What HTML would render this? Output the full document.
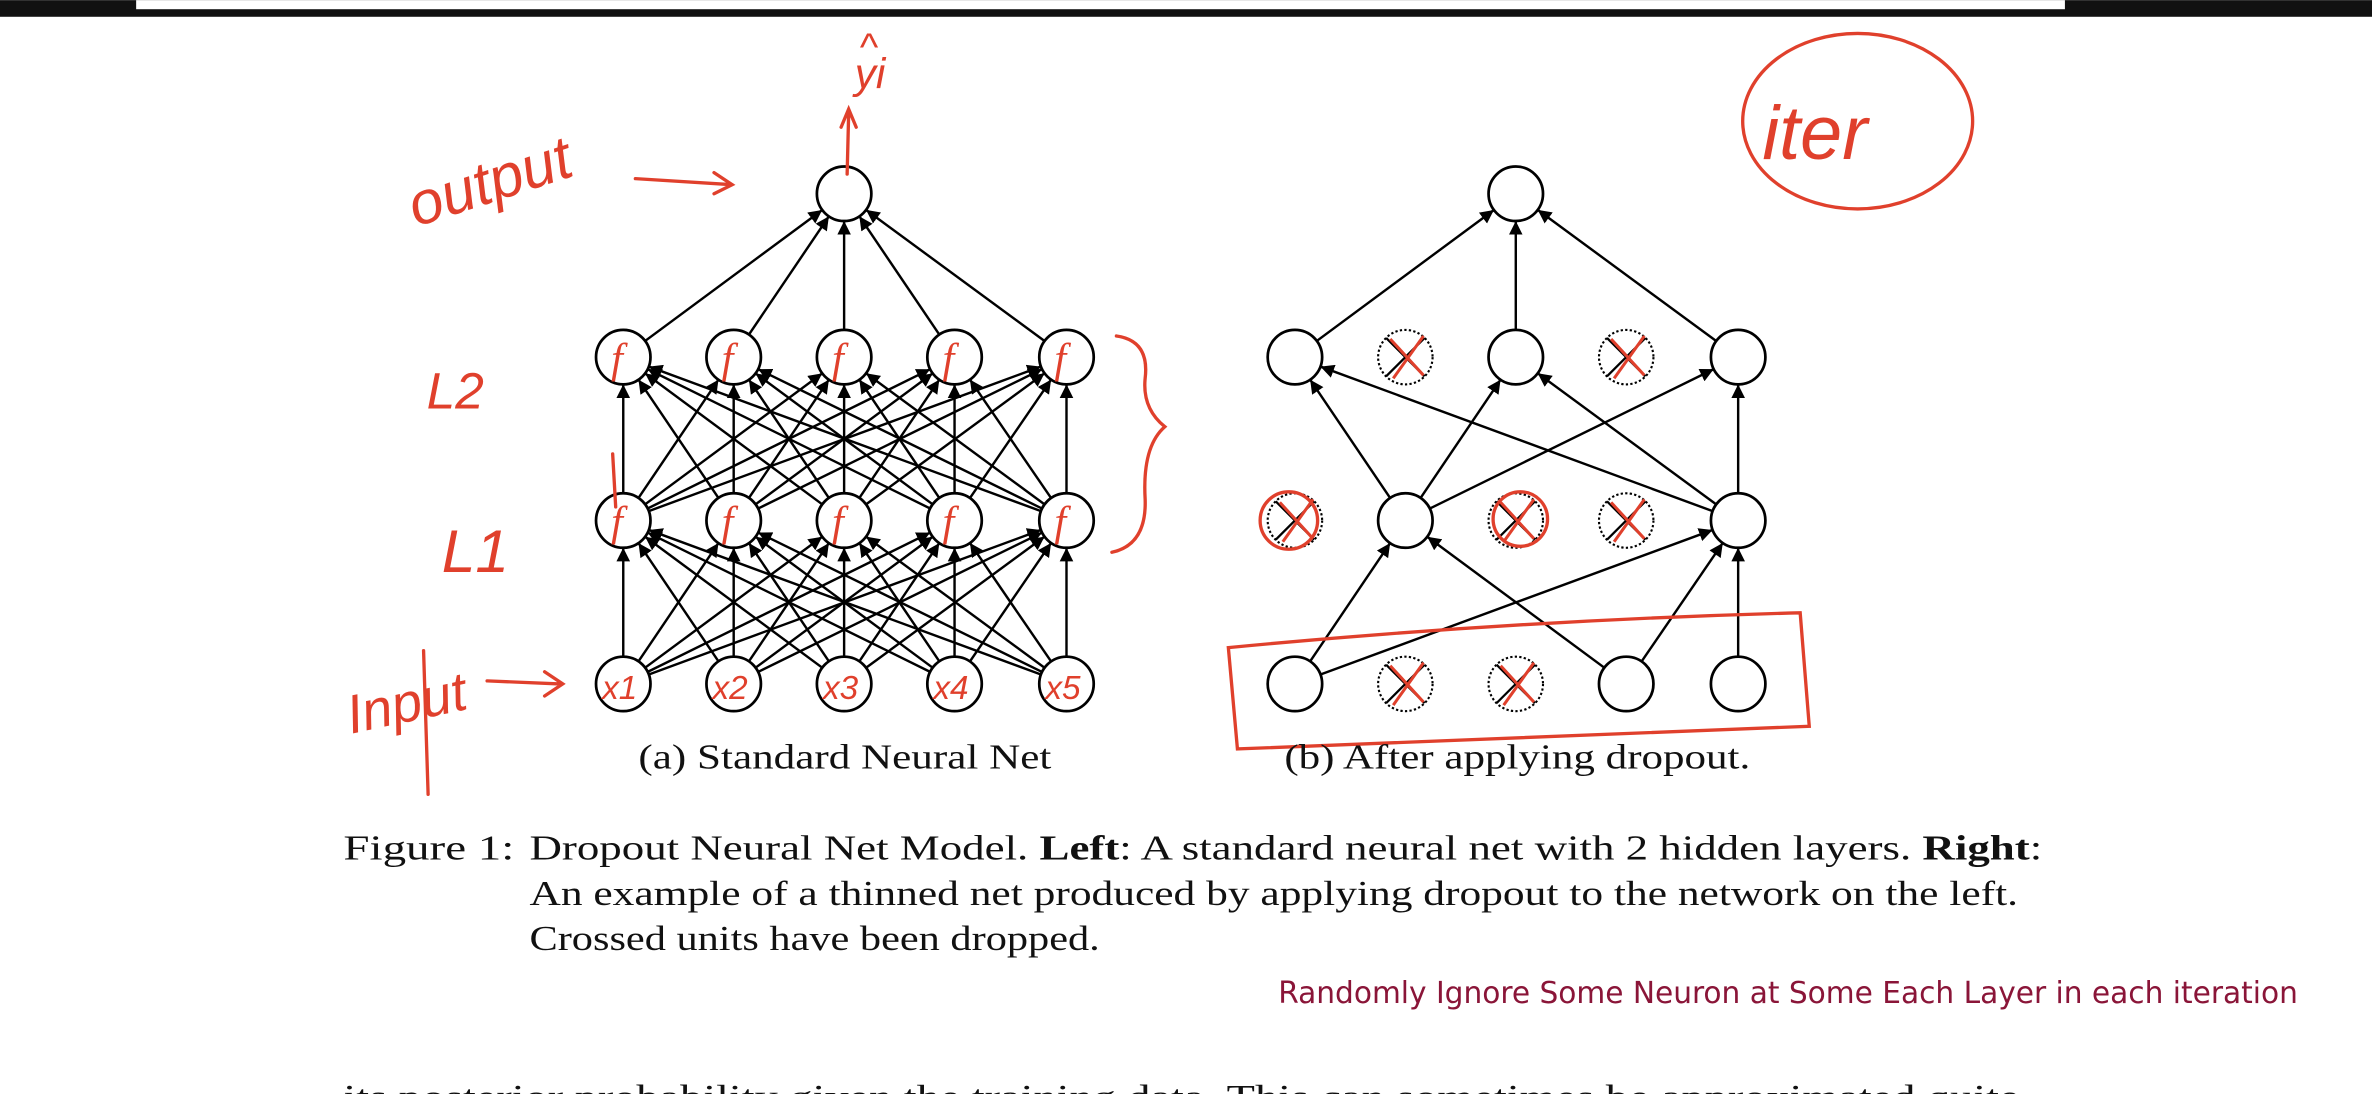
<!DOCTYPE html>
<html><head><meta charset="utf-8"><style>
html,body{margin:0;padding:0;background:#fff;width:2372px;height:1094px;overflow:hidden}
svg{display:block}
.cap{font-family:"Liberation Serif",serif;font-size:23px;fill:#111}
.hw{font-family:"Liberation Sans",sans-serif;fill:#e0402c;font-style:italic}
</style></head><body>
<svg id="s" width="2372" height="1094" viewBox="0 0 1568 723" xmlns="http://www.w3.org/2000/svg">
<defs><marker id="a" viewBox="0 0 10 10" refX="10" refY="5" markerWidth="9" markerHeight="9" markerUnits="userSpaceOnUse" orient="auto"><path d="M0,0L10,5L0,10z" fill="#000"/></marker></defs>
<rect x="0" y="0" width="1568" height="11" fill="#111"/>
<rect x="90" y="0" width="1275" height="6" fill="#fff"/>
<g id="edges" stroke="#000" stroke-width="1.6" fill="none"></g>
<g id="nodes"></g>
<g stroke="#e0402c" stroke-width="2.2" fill="none" stroke-linecap="round">
<path d="M560,115 L561,75 M556,84 L561,72 L566,84"/>
<path d="M420,118 L484,122 M472,114 L484,122 L472,128"/>
<ellipse cx="1228" cy="80" rx="76" ry="58"/>
<path d="M738,222 Q760,225 757,250 Q755,270 770,282 Q755,295 757,330 Q758,360 735,365"/>
<path d="M812,428 Q1000,410 1190,405 L1196,480 Q1000,488 818,495 Z"/>
<path d="M322,450 L370,452 M360,444 L372,452 L360,460"/>
<circle cx="852" cy="344" r="19"/><circle cx="1005" cy="343" r="18"/>
<path d="M283,525 L280,430"/>
<path d="M405,300 L407,335"/>
</g>
<text class="hw" x="275" y="150" font-size="40" transform="rotate(-18 275 150)">output</text>
<text class="hw" x="568" y="40" font-size="26">^</text>
<text class="hw" x="565" y="58" font-size="28">yi</text>
<text class="hw" x="282" y="270" font-size="34">L2</text>
<text class="hw" x="292" y="378" font-size="40">L1</text>
<text class="hw" x="232" y="485" font-size="36" transform="rotate(-12 232 485)">Input</text>
<text class="hw" x="1165" y="105" font-size="50">iter</text>
<text class="cap" x="422" y="508" textLength="273" lengthAdjust="spacingAndGlyphs">(a) Standard Neural Net</text>
<text class="cap" x="849" y="508" textLength="308" lengthAdjust="spacingAndGlyphs">(b) After applying dropout.</text>
<text class="cap" x="227" y="568" textLength="113" lengthAdjust="spacingAndGlyphs">Figure 1:</text>
<text class="cap" x="350" y="568" textLength="1000" lengthAdjust="spacingAndGlyphs">Dropout Neural Net Model. <tspan font-weight="bold">Left</tspan>: A standard neural net with 2 hidden layers. <tspan font-weight="bold">Right</tspan>:</text>
<text class="cap" x="350" y="598" textLength="984" lengthAdjust="spacingAndGlyphs">An example of a thinned net produced by applying dropout to the network on the left.</text>
<text class="cap" x="350" y="628" textLength="377" lengthAdjust="spacingAndGlyphs">Crossed units have been dropped.</text>
<text x="845" y="663" textLength="674" lengthAdjust="spacingAndGlyphs" font-family="'DejaVu Sans Condensed','DejaVu Sans',sans-serif" font-size="20" fill="#8a1538">Randomly Ignore Some Neuron at Some Each Layer in each iteration</text>
<text class="cap" x="227" y="733" textLength="1108" lengthAdjust="spacingAndGlyphs">its posterior probability given the training data. This can sometimes be approximated quite</text>
</svg>
<script>
var NS="http://www.w3.org/2000/svg",E=document.getElementById("edges"),N=document.getElementById("nodes"),R=18;
function ln(x1,y1,x2,y2){var dx=x2-x1,dy=y2-y1,d=Math.hypot(dx,dy),ux=dx/d,uy=dy/d;
var l=document.createElementNS(NS,"line");l.setAttribute("x1",x1+ux*R);l.setAttribute("y1",y1+uy*R);l.setAttribute("x2",x2-ux*R);l.setAttribute("y2",y2-uy*R);l.setAttribute("marker-end","url(#a)");E.appendChild(l);}
function nd(x,y,drop){var c=document.createElementNS(NS,"circle");c.setAttribute("cx",x);c.setAttribute("cy",y);c.setAttribute("r",R);c.setAttribute("fill","#fff");c.setAttribute("stroke","#000");c.setAttribute("stroke-width","1.8");
if(drop){c.setAttribute("stroke-dasharray","1.5 1.5");c.setAttribute("stroke-width","1.4");}N.appendChild(c);
if(drop){var p=document.createElementNS(NS,"path");var k=12.7;p.setAttribute("d","M"+(x-k)+","+(y-k)+"L"+(x+k)+","+(y+k)+"M"+(x+k)+","+(y-k)+"L"+(x-k)+","+(y+k));p.setAttribute("stroke","#000");p.setAttribute("stroke-width","1.5");N.appendChild(p);
var q=document.createElementNS(NS,"path");q.setAttribute("d","M"+(x-10)+","+(y-12)+"L"+(x+12)+","+(y+12)+"M"+(x+12)+","+(y-14)+"L"+(x-8)+","+(y+14));q.setAttribute("stroke","#e0402c");q.setAttribute("stroke-width","2");q.setAttribute("fill","none");N.appendChild(q);}}
var XL=[412,485,558,631,705],XR=[856,929,1002,1075,1149],Y0=452,Y1=344,Y2=236,YO=128;
XL.forEach(function(a){XL.forEach(function(b){ln(a,Y0,b,Y1);ln(a,Y1,b,Y2);});ln(a,Y2,558,YO);});
XL.forEach(function(x){nd(x,Y0);nd(x,Y1);nd(x,Y2);});nd(558,YO);
[[856,1002],[1002,1002],[1149,1002]].forEach(function(e){ln(e[0],Y2,e[1],YO);});
[[929,856],[929,1002],[929,1149],[1149,1149],[1149,1002],[1149,856]].forEach(function(e){ln(e[0],Y1,e[1],Y2);});
[[856,929],[1075,929],[856,1149],[1075,1149],[1149,1149]].forEach(function(e){ln(e[0],Y0,e[1],Y1);});
nd(1002,YO);nd(856,Y2);nd(929,Y2,1);nd(1002,Y2);nd(1075,Y2,1);nd(1149,Y2);
nd(856,Y1,1);nd(929,Y1);nd(1002,Y1,1);nd(1075,Y1,1);nd(1149,Y1);
nd(856,Y0);nd(929,Y0,1);nd(1002,Y0,1);nd(1075,Y0);nd(1149,Y0);
var t=[["x1",412],["x2",485],["x3",558],["x4",631],["x5",705]];
t.forEach(function(v){var s=document.createElementNS(NS,"text");s.setAttribute("x",v[1]-14);s.setAttribute("y",Y0+10);s.setAttribute("font-size","22");s.setAttribute("fill","#e0402c");s.setAttribute("font-family","Liberation Sans,sans-serif");s.setAttribute("font-style","italic");s.textContent=v[0];N.appendChild(s);});
XL.forEach(function(x){[Y1,Y2].forEach(function(y){var s=document.createElementNS(NS,"text");s.setAttribute("x",x-8);s.setAttribute("y",y+10);s.setAttribute("font-size","28");s.setAttribute("fill","#e0402c");s.setAttribute("font-family","Liberation Serif,serif");s.setAttribute("font-style","italic");s.textContent="f";N.appendChild(s);});});
</script>
</body></html>
